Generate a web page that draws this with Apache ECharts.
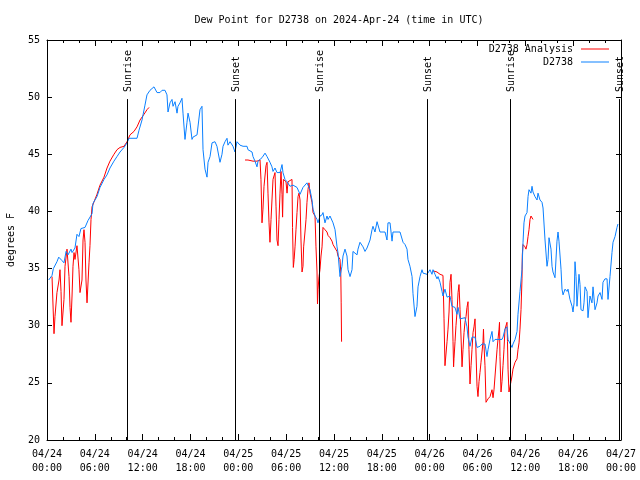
<!DOCTYPE html>
<html>
<head>
<meta charset="utf-8">
<script src="https://cdn.jsdelivr.net/npm/echarts@6/dist/echarts.min.js"></script>
<style>html,body{margin:0;padding:0;background:#fff}#c{width:640px;height:480px}</style>
</head>
<body>
<div id="c"></div>
<script>
// Hours since 2024-04-24 00:00 UTC, dew point in degrees F
const blueObs = [[0.21,34.0],[0.63,34.4],[0.80,35.0],[1.25,35.6],[1.47,36.0],[1.88,35.7],[2.13,35.5],[2.39,36.5],[2.64,36.2],[3.01,36.7],[3.14,36.4],[3.51,36.8],[3.76,38.0],[4.01,37.8],[4.26,38.5],[4.77,38.6],[5.14,39.2],[5.65,39.8],[5.77,40.7],[6.27,41.3],[6.65,42.1],[7.15,42.8],[7.53,43.2],[7.90,43.8],[8.40,44.4],[8.78,44.8],[9.16,45.2],[9.66,45.6],[10.04,46.0],[10.29,46.4],[11.29,46.4],[11.54,47.1],[11.92,48.0],[12.29,49.3],[12.54,50.2],[12.92,50.6],[13.42,50.9],[13.80,50.4],[14.17,50.4],[14.43,50.6],[14.80,50.6],[15.05,50.2],[15.18,48.7],[15.43,49.5],[15.68,49.8],[15.81,49.2],[16.06,49.6],[16.31,48.6],[16.43,49.2],[16.68,49.5],[16.93,49.9],[17.06,48.6],[17.31,46.3],[17.56,47.8],[17.69,48.6],[17.94,47.8],[18.19,46.3],[18.31,46.5],[18.82,46.7],[19.19,48.9],[19.44,49.2],[19.57,45.4],[19.82,43.7],[20.07,43.0],[20.20,44.3],[20.45,44.8],[20.70,46.0],[21.07,46.1],[21.32,45.7],[21.45,45.7],[21.70,44.3],[21.95,45.0],[22.08,45.7],[22.33,46.1],[22.58,46.4],[22.70,45.8],[22.96,46.1],[23.21,46.1],[23.33,45.7],[23.58,45.2],[23.83,46.1],[24.21,45.8],[24.59,45.7],[25.09,45.7],[25.21,45.4],[25.46,45.4],[25.72,45.2],[25.84,44.8],[26.09,44.4],[26.34,43.9],[26.47,44.4],[26.97,44.7],[27.35,45.1],[27.60,44.8],[27.97,44.3],[28.22,43.9],[28.35,43.5],[28.60,43.8],[28.85,43.4],[28.98,43.5],[29.23,43.4],[29.48,44.1],[29.60,43.4],[29.85,42.8],[30.11,42.6],[30.23,42.5],[30.48,42.2],[30.86,42.3],[31.36,42.1],[31.74,41.5],[32.11,42.1],[32.61,42.5],[32.99,41.9],[33.24,41.0],[33.37,40.2],[33.62,39.6],[33.87,39.3],[33.99,39.0],[34.24,39.6],[34.50,39.7],[34.62,39.9],[34.87,39.0],[35.12,39.6],[35.25,39.3],[35.50,39.6],[35.75,39.7],[35.88,39.0],[36.13,38.4],[36.38,36.9],[36.50,36.4],[36.75,34.3],[37.00,35.2],[37.13,36.1],[37.38,36.7],[37.63,36.1],[37.76,34.9],[38.01,34.3],[38.26,34.9],[38.38,36.5],[38.63,36.4],[38.89,36.2],[39.01,36.7],[39.26,37.3],[39.51,37.3],[39.64,36.9],[39.89,36.5],[40.14,36.8],[40.27,36.7],[40.52,37.5],[40.77,38.4],[40.89,38.7],[41.14,38.2],[41.40,39.1],[41.52,39.0],[41.77,38.2],[42.40,38.2],[42.65,37.5],[42.77,39.0],[43.03,39.0],[43.28,37.4],[43.40,38.2],[44.28,38.2],[44.53,38.2],[44.66,37.3],[44.91,37.1],[45.16,36.7],[45.28,35.8],[45.53,35.2],[45.79,34.3],[45.91,32.8],[46.16,30.8],[46.41,31.7],[46.54,33.4],[46.79,34.3],[47.04,34.9],[47.17,34.6],[47.67,34.5],[48.04,34.9],[48.29,34.5],[48.42,34.9],[48.67,34.5],[48.92,34.1],[49.05,34.3],[49.30,33.8],[49.55,33.0],[49.67,32.6],[49.92,33.2],[50.18,32.5],[50.30,32.5],[50.55,32.6],[50.80,31.7],[50.93,31.6],[51.18,31.6],[51.43,31.0],[51.56,31.6],[51.81,30.6],[52.43,30.7],[52.68,29.9],[52.81,29.0],[53.06,28.2],[53.31,29.0],[53.69,29.0],[53.94,28.1],[54.31,28.2],[54.57,28.4],[54.94,28.4],[55.19,27.3],[55.32,27.9],[55.57,28.8],[55.82,29.5],[55.95,28.6],[56.20,28.8],[57.07,28.8],[57.20,29.0],[57.45,29.7],[57.70,29.9],[57.83,28.8],[58.08,28.8],[58.33,28.1],[58.45,28.4],[58.71,28.8],[58.96,29.5],[59.08,31.0],[59.33,33.0],[59.58,34.9],[59.71,37.3],[59.83,39.0],[59.96,39.6],[60.21,39.9],[60.34,41.3],[60.46,41.9],[60.71,41.6],[60.84,42.2],[60.96,41.7],[61.21,41.3],[61.47,41.0],[61.59,41.6],[61.84,41.0],[62.09,40.8],[62.22,40.3],[62.47,37.5],[62.72,35.2],[62.85,35.8],[62.97,37.7],[63.22,36.7],[63.35,35.2],[63.47,34.7],[63.72,34.2],[63.97,37.4],[64.10,38.2],[64.22,37.4],[64.48,34.9],[64.60,33.2],[64.73,32.7],[64.98,33.2],[65.23,33.0],[65.35,33.2],[65.60,32.3],[65.86,31.7],[65.98,31.2],[66.11,32.0],[66.23,35.6],[66.36,34.3],[66.48,31.7],[66.73,34.5],[66.86,33.6],[66.98,31.4],[67.24,31.3],[67.36,32.0],[67.49,33.4],[67.74,33.0],[67.86,30.7],[68.11,32.6],[68.36,32.0],[68.49,33.4],[68.74,31.4],[68.99,32.0],[69.12,32.6],[69.37,32.9],[69.62,32.3],[69.74,33.8],[69.99,34.1],[70.25,34.1],[70.37,32.3],[70.62,34.3],[70.87,36.4],[71.00,37.3],[71.25,37.8],[71.50,38.6],[71.62,38.9]];

const analysis1 = [[0.63,34.3],[0.88,29.3],[1.00,30.8],[1.25,32.9],[1.51,34.0],[1.63,34.9],[1.76,33.0],[1.88,30.0],[2.13,32.3],[2.26,35.2],[2.51,36.7],[2.76,34.3],[2.89,31.6],[3.01,30.3],[3.14,32.6],[3.26,35.2],[3.39,36.4],[3.51,35.8],[3.76,37.0],[4.01,34.9],[4.14,32.9],[4.39,34.0],[4.52,37.5],[4.64,38.4],[4.77,37.3],[4.89,34.0],[5.02,32.0],[5.27,35.5],[5.39,37.0],[5.52,39.3],[5.65,40.4],[6.27,41.5],[6.65,42.3],[7.15,43.0],[7.53,43.8],[7.90,44.4],[8.40,45.0],[8.78,45.4],[9.16,45.6],[9.66,45.7],[10.04,46.1],[10.41,46.7],[10.91,47.0],[11.29,47.4],[11.67,48.0],[12.17,48.5],[12.54,48.9],[12.80,49.1]];

const analysis2 = [[24.84,44.5],[25.21,44.5],[25.84,44.4],[26.34,44.4],[26.72,44.5],[26.84,42.8],[26.97,39.0],[27.09,40.2],[27.22,42.2],[27.47,44.0],[27.60,44.3],[27.72,41.6],[27.85,39.0],[27.97,37.3],[28.10,39.3],[28.22,41.0],[28.35,42.8],[28.60,43.4],[28.73,40.4],[28.85,37.5],[28.98,37.0],[29.10,39.3],[29.23,41.6],[29.35,43.5],[29.48,41.5],[29.55,39.5],[29.65,42.8],[29.98,42.6],[30.11,41.6],[30.23,42.6],[30.73,42.8],[30.80,38.6],[30.90,35.1],[31.00,35.8],[31.11,36.9],[31.23,38.4],[31.36,39.9],[31.49,41.3],[31.61,41.6],[31.74,41.0],[31.86,37.5],[31.99,34.7],[32.11,35.2],[32.19,36.9],[32.36,38.2],[32.49,39.3],[32.61,40.8],[32.74,41.9],[32.86,42.5],[32.99,41.6],[33.24,40.8],[33.37,39.9],[33.62,39.6],[33.74,36.9],[33.87,34.7],[33.93,31.9],[34.00,33.2],[34.12,34.3],[34.24,34.9],[34.37,36.1],[34.50,36.9],[34.62,38.6],[34.87,38.4],[35.12,38.2],[35.25,37.9],[35.50,37.7],[35.75,37.4],[35.88,37.1],[36.13,36.8],[36.38,36.5],[36.50,36.1],[36.75,35.8],[36.85,34.7],[36.90,32.0],[36.95,28.6]];

const analysis3 = [[48.42,34.8],[48.92,34.7],[49.30,34.5],[49.67,34.4],[49.80,30.6],[49.92,26.5],[50.05,26.5],[50.18,28.6],[50.30,29.7],[50.43,31.2],[50.55,33.8],[50.68,34.5],[50.80,32.3],[50.93,28.6],[51.00,26.4],[51.05,27.1],[51.18,28.6],[51.30,30.0],[51.43,31.2],[51.56,32.9],[51.68,33.6],[51.81,31.4],[51.93,29.1],[52.06,26.4],[52.18,27.9],[52.31,29.4],[52.43,30.3],[52.56,30.8],[52.68,31.6],[52.81,32.1],[52.93,27.9],[53.06,24.9],[53.12,25.6],[53.19,26.5],[53.31,27.9],[53.44,29.4],[53.56,29.9],[53.69,30.6],[53.81,27.7],[53.94,24.7],[54.06,23.8],[54.19,25.1],[54.31,25.9],[54.44,26.8],[54.69,28.6],[54.75,29.7],[54.82,28.2],[54.94,26.5],[55.07,23.3],[55.19,23.3],[55.32,23.6],[55.57,23.8],[55.82,24.4],[55.95,23.7],[56.07,24.4],[56.20,25.6],[56.45,27.9],[56.57,28.8],[56.70,29.7],[56.76,30.3],[56.82,27.3],[56.95,24.2],[57.07,25.1],[57.20,26.5],[57.32,27.9],[57.45,29.7],[57.70,30.3],[57.76,28.6],[57.83,26.2],[57.95,24.2],[58.08,24.7],[58.20,25.1],[58.33,25.6],[58.45,26.2],[58.71,26.8],[58.96,27.1],[59.08,27.9],[59.21,28.5],[59.33,29.7],[59.46,31.4],[59.58,34.1],[59.62,36.2],[59.71,37.1],[59.96,36.9],[60.08,36.7],[60.21,37.1],[60.34,37.8],[60.46,38.4],[60.59,39.3],[60.71,39.6],[60.84,39.7],[60.96,39.3]];

const sunHours = [10.07, 23.62, 34.16, 47.71, 58.12, 71.79];
const sunLabels = ['Sunrise', 'Sunset', 'Sunrise', 'Sunset', 'Sunrise', 'Sunset'];
const sunLineTop = 49.83;
const sunLabelBase = 50.45;

const xTickLabels = ['04/24\n00:00','04/24\n06:00','04/24\n12:00','04/24\n18:00','04/25\n00:00','04/25\n06:00','04/25\n12:00','04/25\n18:00','04/26\n00:00','04/26\n06:00','04/26\n12:00','04/26\n18:00','04/27\n00:00'];
const titleText = 'Dew Point for D2738 on 2024-Apr-24 (time in UTC)';
const yName = 'degrees F';
const nameAnalysis = 'D2738 Analysis';
const nameObs = 'D2738';

const FONT = 'DejaVu Sans Mono';
const RED = '#ff0000';
const BLUE = '#0a80ff';

const chart = echarts.init(document.getElementById('c'), null, {renderer: 'canvas'});

const baseX = {
  type: 'value', min: 0, max: 72, interval: 6,
  axisLine: {show: true, onZero: false, lineStyle: {color: '#000', width: 1}},
  axisTick: {show: true, inside: true, length: 6, lineStyle: {color: '#000'}},
  minorTick: {show: true, splitNumber: 3, length: 3, lineStyle: {color: '#000'}},
  splitLine: {show: false}
};
const baseY = {
  type: 'value', min: 20, max: 55, interval: 5,
  axisLine: {show: true, onZero: false, lineStyle: {color: '#000', width: 1}},
  axisTick: {show: true, inside: true, length: 5, lineStyle: {color: '#000'}},
  splitLine: {show: false}
};

function redSeries(data) {
  return {
    type: 'line', name: nameAnalysis, data: data, showSymbol: false, symbol: 'none',
    lineStyle: {color: RED, width: 1}, itemStyle: {color: RED},
    xAxisIndex: 0, yAxisIndex: 0, z: 2, silent: true
  };
}

chart.setOption({
  animation: false,
  backgroundColor: '#fff',
  title: {
    text: titleText, left: 334, top: 10, textAlign: 'center',
    textStyle: {fontFamily: FONT, fontSize: 10, fontWeight: 'normal', color: '#000'}
  },
  legend: [
    {
      data: [nameAnalysis], right: 31, top: 44, align: 'right', icon: 'rect',
      itemWidth: 28, itemHeight: 1, padding: 0,
      textStyle: {fontFamily: FONT, fontSize: 10, color: '#000', padding: [0, 3, 0, 0]},
      itemStyle: {color: RED}
    },
    {
      data: [nameObs], right: 31, top: 57, align: 'right', icon: 'rect',
      itemWidth: 28, itemHeight: 1, padding: 0,
      textStyle: {fontFamily: FONT, fontSize: 10, color: '#000', padding: [0, 3, 0, 0]},
      itemStyle: {color: BLUE}
    }
  ],
  grid: {left: 47, right: 19, top: 40, bottom: 40, containLabel: false, outerBoundsMode: 'none'},
  xAxis: [
    Object.assign({}, baseX, {
      position: 'bottom',
      axisLabel: {
        show: true, margin: 7, fontFamily: FONT, fontSize: 10, color: '#000', lineHeight: 14,
        formatter: function (v) { return xTickLabels[Math.round(v / 6)] || ''; }
      }
    }),
    Object.assign({}, baseX, {position: 'top', axisLabel: {show: false}})
  ],
  yAxis: [
    Object.assign({}, baseY, {
      position: 'left',
      name: yName, nameLocation: 'middle', nameGap: 31, nameRotate: 90,
      nameTextStyle: {fontFamily: FONT, fontSize: 10, color: '#000'},
      axisLabel: {show: true, margin: 7, fontFamily: FONT, fontSize: 10, color: '#000'}
    }),
    Object.assign({}, baseY, {position: 'right', axisLabel: {show: false}})
  ],
  series: [
    redSeries(analysis1),
    redSeries(analysis2),
    redSeries(analysis3),
    {
      type: 'line', name: nameObs, data: blueObs, showSymbol: false, symbol: 'none',
      lineStyle: {color: BLUE, width: 1}, itemStyle: {color: BLUE},
      xAxisIndex: 0, yAxisIndex: 0, z: 3, silent: true
    },
    {
      type: 'custom', xAxisIndex: 0, yAxisIndex: 0, z: 4, silent: true, clip: false,
      data: sunHours.map(function (h, i) { return [h, i]; }),
      renderItem: function (params, api) {
        const h = api.value(0);
        const i = api.value(1);
        const p0 = api.coord([h, 20]);
        const p1 = api.coord([h, sunLineTop]);
        const pl = api.coord([h, sunLabelBase]);
        const x = Math.round(p0[0]) + 0.5;
        return {
          type: 'group',
          children: [
            {type: 'line', shape: {x1: x, y1: p0[1], x2: x, y2: p1[1]}, style: {stroke: '#000', lineWidth: 1}},
            {type: 'text', x: x + 1, y: pl[1], rotation: Math.PI / 2,
             style: {text: sunLabels[i], fill: '#000', fontFamily: FONT, fontSize: 10, align: 'left', verticalAlign: 'middle'}}
          ]
        };
      }
    }
  ]
});
</script>
</body>
</html>
